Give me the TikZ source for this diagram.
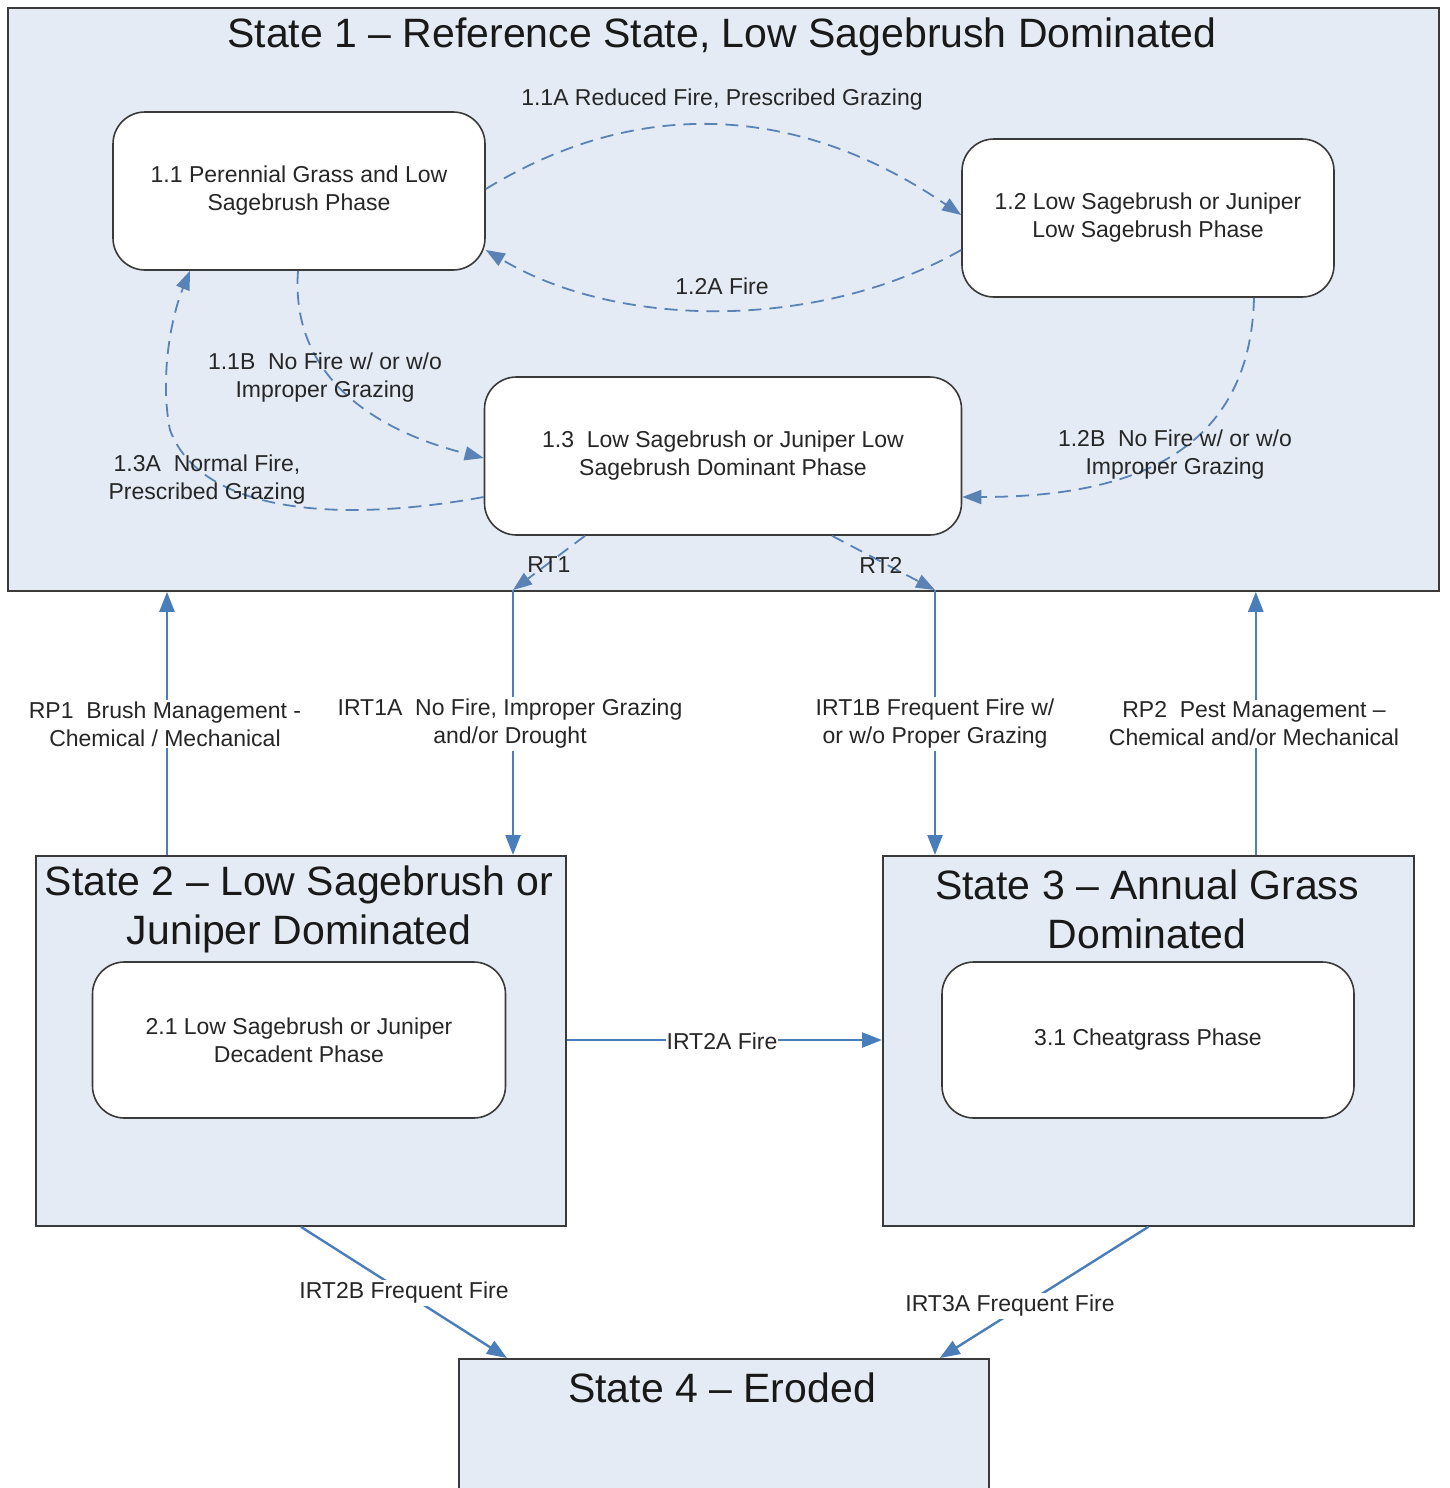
\documentclass[tikz,border=0pt]{standalone}
\usepackage{fontspec}
\setmainfont{Liberation Sans}
\usetikzlibrary{arrows.meta}
\definecolor{stfill}{HTML}{E4EBF5}
\definecolor{arr}{HTML}{4A7EBB}
\definecolor{darr}{HTML}{5A82B4}
\definecolor{bord}{HTML}{3A3A3A}
\begin{document}
\begin{tikzpicture}[x=1pt,y=-1pt,
  statebox/.style={draw=bord, line width=1.8pt, fill=stfill, inner sep=0pt, anchor=north west},
  phase/.style={draw=bord, line width=1.6pt, fill=white, rounded corners=32pt, align=center,
    font=\fontsize{23}{28}\selectfont, text=black!85, inner sep=0pt},
  lbl/.style={align=center, font=\fontsize{23}{28}\selectfont, text=black!85, inner sep=2pt, yshift=-3pt},
  wlbl/.style={lbl, fill=white},
  ttl/.style={align=center, font=\fontsize{41}{49}\selectfont, text=black!90, inner sep=0pt, yshift=-2pt},
  sarr/.style={draw=arr, line width=2.4pt, -{Triangle[length=20pt,width=15pt]}},
  dasharr/.style={draw=darr, line width=1.8pt, dash pattern=on 13pt off 8pt, -{Triangle[length=19pt,width=14pt]}},
]
\useasboundingbox (0,0) rectangle (1449,1488);
\clip (0,0) rectangle (1449,1488);

% state boxes
\node[statebox, minimum width=1431pt, minimum height=583pt] (s1) at (7,7) {};
\node[statebox, minimum width=530pt, minimum height=370pt] (s2) at (35,855) {};
\node[statebox, minimum width=531pt, minimum height=370pt] (s3) at (882,855) {};
\node[statebox, minimum width=530pt, minimum height=160pt] (s4) at (458,1358) {};

% titles
\node[ttl] (t1) at (722,35) {State 1 -- Reference State, Low Sagebrush Dominated};
\node[ttl] (t2) at (299,907) {State 2 -- Low Sagebrush or\\Juniper Dominated};
\node[ttl] (t3) at (1147,907) {State 3 -- Annual Grass\\Dominated};
\node[ttl] (t4) at (722,1386) {State 4 -- Eroded};

% phases
\node[phase, minimum width=372pt, minimum height=158pt] (p11) at (299,191) {1.1 Perennial Grass and Low\\Sagebrush Phase};
\node[phase, minimum width=372pt, minimum height=158pt] (p12) at (1148,218) {1.2 Low Sagebrush or Juniper\\Low Sagebrush Phase};
\node[phase, minimum width=477pt, minimum height=158pt] (p13) at (723,456) {1.3\ \ Low Sagebrush or Juniper Low\\Sagebrush Dominant Phase};
\node[phase, minimum width=413pt, minimum height=156pt] (p21) at (299,1040) {2.1 Low Sagebrush or Juniper\\Decadent Phase};
\node[phase, minimum width=412pt, minimum height=156pt] (p31) at (1148,1040) {3.1 Cheatgrass Phase};

% dashed transitions inside state 1
\draw[dasharr] ([yshift=2pt]p11.east) .. controls (640,95) and (800,105) .. ([yshift=3pt]p12.west);
\draw[dasharr] ([yshift=-32pt]p12.west) .. controls (820,330) and (620,330) .. ([yshift=-59pt]p11.east);
\draw[dasharr] ([xshift=-1pt]p11.south) .. controls (290,380) and (380,432) .. ([yshift=-2pt]p13.west);
\draw[dasharr] ([yshift=-41pt]p13.west) .. controls (330,525) and (200,510) .. (170,430)
   .. controls (160,380) and (170,320) .. ([xshift=-109pt]p11.south);
\draw[dasharr] ([xshift=106pt]p12.south) .. controls (1250,460) and (1120,497) .. ([yshift=-41pt]p13.east);

\node[lbl] (l11a) at (722,97) {1.1A Reduced Fire, Prescribed Grazing};
\node[lbl] (l12a) at (722,283) {1.2A Fire};
\node[lbl] (l11b) at (325,375) {1.1B\ \ No Fire w/ or w/o\\Improper Grazing};
\node[lbl] (l13a) at (207,477) {1.3A\ \ Normal Fire,\\Prescribed Grazing};
\node[lbl] (l12b) at (1175,452) {1.2B\ \ No Fire w/ or w/o\\Improper Grazing};

% RT1 / RT2
\coordinate (rt1) at (513,590);
\coordinate (rt2) at (935,590);
\draw[dasharr] ([xshift=-138pt]p13.south) -- (rt1);
\draw[dasharr] ([xshift=109pt]p13.south) -- (rt2);
\node[lbl] (lrt1) at (549,562) {RT1};
\node[lbl] (lrt2) at (881,562) {RT2};

% vertical transitions
\draw[sarr] ([xshift=132pt]s2.north west) -- ([xshift=132pt]s2.north west |- s1.south);
\draw[sarr] (rt1) -- (rt1 |- s2.north);
\draw[sarr] (rt2) -- (rt2 |- s3.north);
\draw[sarr] ([xshift=-159pt]s3.north east) -- ([xshift=-159pt]s3.north east |- s1.south);

\node[wlbl] (lrp1) at (165,721) {RP1\ \ Brush Management -\\Chemical / Mechanical};
\node[wlbl] (lirt1a) at (510,721) {IRT1A\ \ No Fire, Improper Grazing\\and/or Drought};
\node[wlbl] (lirt1b) at (935,721) {IRT1B Frequent Fire w/\\or w/o Proper Grazing};
\node[wlbl] (lrp2) at (1254,721) {RP2\ \ Pest Management --\\Chemical and/or Mechanical};

% IRT2A
\draw[sarr] (s2.east |- p21.east) -- (s3.west |- p31.west);
\node[wlbl, inner xsep=1pt] (lirt2a) at (722,1038) {IRT2A Fire};

% to state 4
\draw[sarr] (s2.south) -- ([xshift=49pt]s4.north west);
\draw[sarr] (s3.south) -- ([xshift=-50pt]s4.north east);
\node[wlbl] (lirt2b) at (404,1290) {IRT2B Frequent Fire};
\node[wlbl] (lirt3a) at (1010,1303) {IRT3A Frequent Fire};
\end{tikzpicture}
\end{document}
